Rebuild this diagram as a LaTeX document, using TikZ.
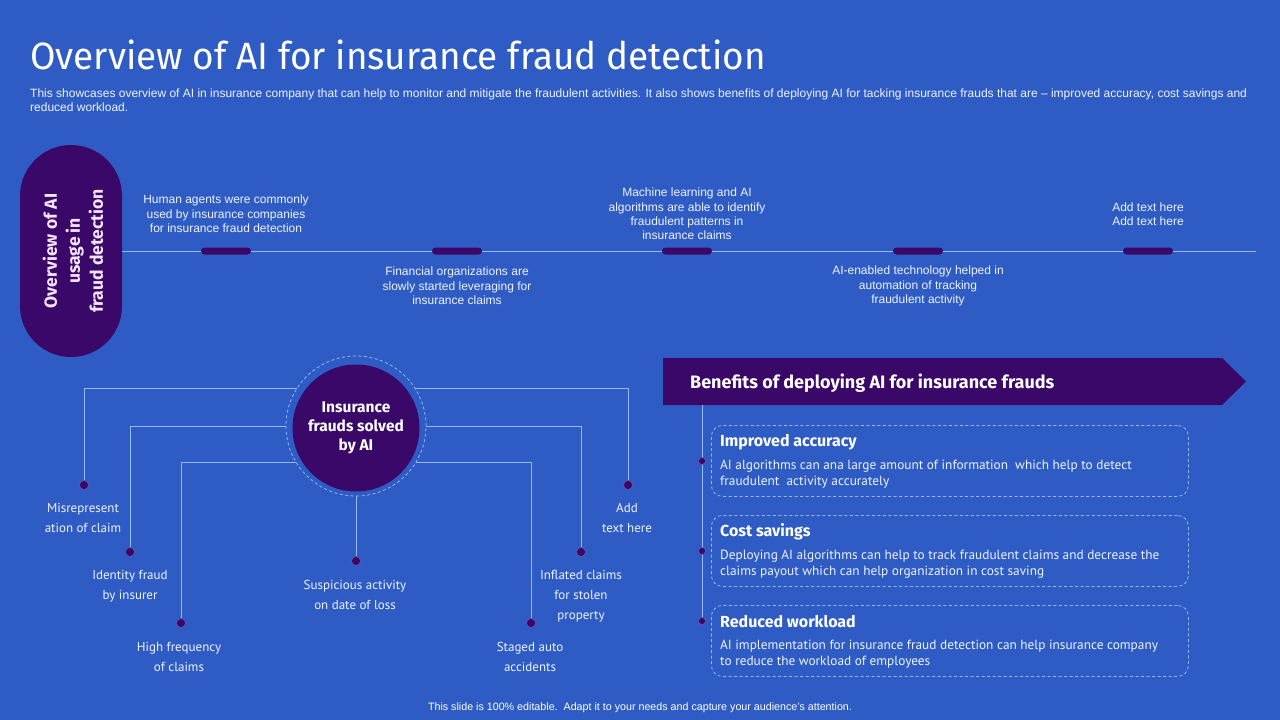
\documentclass[tikz,border=0pt]{standalone}
\usepackage{fontspec}
\setmainfont{Liberation Sans}
\newfontfamily\firaf{Fira Sans}
\newfontfamily\ptf{PT Sans}
\usetikzlibrary{calc}
\definecolor{bg}{RGB}{46,92,196}
\definecolor{deep}{RGB}{58,8,104}
\definecolor{lineblue}{RGB}{150,185,245}
\definecolor{soft}{RGB}{238,242,255}
\definecolor{lav}{RGB}{244,228,250}
\begin{document}
\begin{tikzpicture}[x=1pt,y=-1pt,
  conn/.style={draw=lineblue, line width=0.8pt},
  tltext/.style={text=soft, align=center, font=\fontsize{12}{14.3}\selectfont, inner sep=0pt},
  bar/.style={fill=deep, rounded corners=3.5pt, minimum width=50pt, minimum height=7pt, inner sep=0pt},
  pillbox/.style={fill=deep, rounded corners=51pt, minimum width=102pt, minimum height=212pt, inner sep=0pt},
  dotn/.style={circle, fill=deep, draw=lineblue!50!deep, line width=0.5pt, minimum size=9pt, inner sep=0pt},
  lbl/.style={text=soft, align=center, font=\ptf\fontsize{13}{20}\selectfont, inner sep=0pt},
  benbox/.style={draw=lineblue, dashed, dash pattern=on 3pt off 2.5pt, rounded corners=11pt, line width=0.8pt, minimum width=477pt, minimum height=71pt, anchor=north west, inner sep=0pt},
  benhead/.style={text=white, anchor=west, font=\firaf\bfseries\fontsize{16}{18}\selectfont, inner sep=0pt},
  benbody/.style={text=soft, anchor=north west, align=left, font=\ptf\fontsize{13.3}{16}\selectfont, inner sep=0pt}
]
\useasboundingbox (0,0) rectangle (1280,720);
\fill[bg] (0,0) rectangle (1280,720);

% title
\node[anchor=base west, text=white, inner sep=0pt, font=\firaf\fontsize{38}{44}\selectfont] (title) at (30,69) {\scalebox{0.97}[1]{Overview of AI for insurance fraud detection}};
\node[anchor=north west, text=soft, align=left, inner sep=0pt, font=\fontsize{12}{14}\selectfont] (sub) at (30,89) {This showcases overview of AI in insurance company that can help to monitor and mitigate the fraudulent activities. It also shows benefits of deploying AI for tacking insurance frauds that are -- improved accuracy, cost savings and\\reduced workload.};

% timeline
\node[pillbox] (pill) at (71,251) {};
\node[rotate=90, text=lav, align=center, inner sep=0pt, font=\firaf\bfseries\fontsize{17.5}{23}\selectfont] (pilltext) at (73,251) {Overview of AI\\usage in\\fraud detection};
\coordinate (tlend) at (1256,251);
\draw[conn] (pill.east) -- (tlend);
\node[bar] (b1) at (226,251) {};
\node[bar] (b2) at (457,251) {};
\node[bar] (b3) at (687,251) {};
\node[bar] (b4) at (918,251) {};
\node[bar] (b5) at (1148,251) {};
\node[tltext] (t1) at (226,214) {Human agents were commonly\\used by insurance companies\\for insurance fraud detection};
\node[tltext] (t2) at (457,286) {Financial organizations are\\slowly started leveraging for\\insurance claims};
\node[tltext] (t3) at (687,214) {Machine learning and AI\\algorithms are able to identify\\fraudulent patterns in\\insurance claims};
\node[tltext] (t4) at (918,286) {AI-enabled technology helped in\\automation of tracking\\fraudulent activity};
\node[tltext] (t5) at (1148,214) {Add text here\\Add text here};

% hub diagram
\coordinate (hub) at (356,426);
\node[dotn] (d1) at (84,485) {};
\node[dotn] (d2) at (130,552) {};
\node[dotn] (d3) at (181,623) {};
\node[dotn] (d4) at (356,561) {};
\node[dotn] (d5) at (531,623) {};
\node[dotn] (d6) at (581,552) {};
\node[dotn] (d7) at (628,485) {};
\draw[conn] (d1) |- ($(hub)+(0,-38)$);
\draw[conn] (d2) |- (hub);
\draw[conn] (d3) |- ($(hub)+(0,36)$);
\draw[conn] (d4) -- (hub);
\draw[conn] (d5) |- ($(hub)+(0,36)$);
\draw[conn] (d6) |- (hub);
\draw[conn] (d7) |- ($(hub)+(0,-38)$);
\node[circle, fill=bg, draw=lineblue, dashed, dash pattern=on 3pt off 2.5pt, line width=0.8pt, minimum size=140pt, inner sep=0pt] (ring) at (hub) {};
\node[circle, fill=deep, minimum size=127pt, inner sep=0pt, text=white, align=center, font=\firaf\bfseries\fontsize{15.5}{19}\selectfont] (core) at ($(hub)+(0,2)$) {Insurance\\frauds solved\\by AI};
\node[dotn] at (d1) {};
\node[dotn] at (d2) {};
\node[dotn] at (d3) {};
\node[dotn] at (d4) {};
\node[dotn] at (d5) {};
\node[dotn] at (d6) {};
\node[dotn] at (d7) {};
\node[lbl] (l1) at (83,518) {Misrepresent\\ation of claim};
\node[lbl] (l2) at (130,586) {Identity fraud\\by insurer};
\node[lbl] (l3) at (179,657) {High frequency\\of claims};
\node[lbl] (l4) at (355,595) {Suspicious activity\\on date of loss};
\node[lbl] (l5) at (530,657) {Staged auto\\accidents};
\node[lbl] (l6) at (581,596.5) {Inflated claims\\for stolen\\property};
\node[lbl] (l7) at (627,518) {Add\\text here};

% benefits
\fill[deep] (663,358) -- (1222,358) -- (1246,381.5) -- (1222,405) -- (663,405) -- cycle;
\node[anchor=west, text=white, inner sep=0pt, font=\firaf\bfseries\fontsize{18}{20}\selectfont] (bantext) at (690,383) {Benefits of deploying AI for insurance frauds};
\coordinate (banbot) at (702,405);
\node[dotn, minimum size=7pt] (bd1) at (702,461) {};
\node[dotn, minimum size=7pt] (bd2) at (702,551) {};
\node[dotn, minimum size=7pt] (bd3) at (702,621) {};
\draw[conn] (banbot) -- (bd3);
\node[dotn, minimum size=7pt] at (bd1) {};
\node[dotn, minimum size=7pt] at (bd2) {};
\node[dotn, minimum size=7pt] at (bd3) {};

\node[benbox] (box1) at (711,425) {};
\node[benbox] (box2) at (711,515) {};
\node[benbox] (box3) at (711,605) {};
\node[benhead] (h1) at (720,442) {Improved accuracy};
\node[benbody] (p1) at (720,460) {AI algorithms can ana large amount of information\ \ which help to detect\\fraudulent\ \ activity accurately};
\node[benhead] (h2) at (720,532) {Cost savings};
\node[benbody] (p2) at (720,550) {Deploying AI algorithms can help to track fraudulent claims and decrease the\\claims payout which can help organization in cost saving};
\node[benhead] (h3) at (720,622) {Reduced workload};
\node[benbody] (p3) at (720,640) {AI implementation for insurance fraud detection can help insurance company\\to reduce the workload of employees};

% footer
\node[text=white, inner sep=0pt, font=\fontsize{10.7}{12}\selectfont] (foot) at (640,708) {This slide is 100\% editable.\ \ Adapt it to your needs and capture your audience's attention.};
\end{tikzpicture}
\end{document}
